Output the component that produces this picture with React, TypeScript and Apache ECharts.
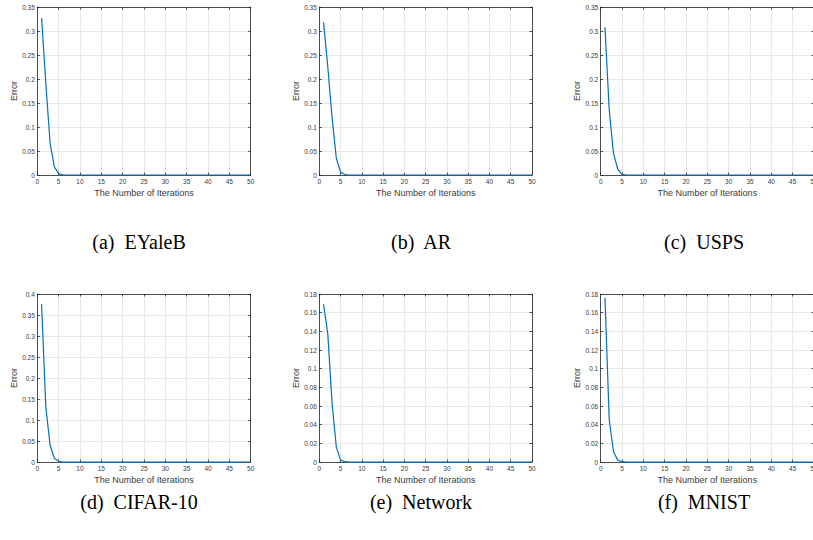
import React, { useEffect, useRef } from "react";
import * as echarts from "echarts";

// Iteration numbers (x axis)
const iterations = [
  1, 2, 3, 4, 5, 6, 7, 8, 9, 10, 11, 12, 13, 14, 15, 16, 17, 18, 19, 20, 21, 22, 23, 24, 25,
  26, 27, 28, 29, 30, 31, 32, 33, 34, 35, 36, 37, 38, 39, 40, 41, 42, 43, 44, 45, 46, 47, 48, 49, 50,
];

// Error values per dataset
const errEYaleB = [
  0.327, 0.19, 0.066, 0.017, 0.003, 0.0005, 0, 0, 0, 0, 0, 0, 0, 0, 0, 0, 0, 0, 0, 0, 0, 0, 0, 0, 0,
  0, 0, 0, 0, 0, 0, 0, 0, 0, 0, 0, 0, 0, 0, 0, 0, 0, 0, 0, 0, 0, 0, 0, 0, 0,
];
const errAR = [
  0.318, 0.225, 0.12, 0.035, 0.006, 0.001, 0, 0, 0, 0, 0, 0, 0, 0, 0, 0, 0, 0, 0, 0, 0, 0, 0, 0, 0,
  0, 0, 0, 0, 0, 0, 0, 0, 0, 0, 0, 0, 0, 0, 0, 0, 0, 0, 0, 0, 0, 0, 0, 0, 0,
];
const errUSPS = [
  0.308, 0.135, 0.045, 0.012, 0.0015, 0, 0, 0, 0, 0, 0, 0, 0, 0, 0, 0, 0, 0, 0, 0, 0, 0, 0, 0, 0,
  0, 0, 0, 0, 0, 0, 0, 0, 0, 0, 0, 0, 0, 0, 0, 0, 0, 0, 0, 0, 0, 0, 0, 0, 0,
];
const errCIFAR = [
  0.376, 0.13, 0.04, 0.009, 0.0015, 0, 0, 0, 0, 0, 0, 0, 0, 0, 0, 0, 0, 0, 0, 0, 0, 0, 0, 0, 0,
  0, 0, 0, 0, 0, 0, 0, 0, 0, 0, 0, 0, 0, 0, 0, 0, 0, 0, 0, 0, 0, 0, 0, 0, 0,
];
const errNetwork = [
  0.169, 0.137, 0.063, 0.016, 0.002, 0.0003, 0, 0, 0, 0, 0, 0, 0, 0, 0, 0, 0, 0, 0, 0, 0, 0, 0, 0, 0,
  0, 0, 0, 0, 0, 0, 0, 0, 0, 0, 0, 0, 0, 0, 0, 0, 0, 0, 0, 0, 0, 0, 0, 0, 0,
];
const errMNIST = [
  0.176, 0.045, 0.011, 0.002, 0.0003, 0, 0, 0, 0, 0, 0, 0, 0, 0, 0, 0, 0, 0, 0, 0, 0, 0, 0, 0, 0,
  0, 0, 0, 0, 0, 0, 0, 0, 0, 0, 0, 0, 0, 0, 0, 0, 0, 0, 0, 0, 0, 0, 0, 0, 0,
];

const panelSeries = [errEYaleB, errAR, errUSPS, errCIFAR, errNetwork, errMNIST];
const captions = ["(a)  EYaleB", "(b)  AR", "(c)  USPS", "(d)  CIFAR-10", "(e)  Network", "(f)  MNIST"];
const yMaxes = [0.35, 0.35, 0.35, 0.4, 0.18, 0.18];
const yIntervals = [0.05, 0.05, 0.05, 0.05, 0.02, 0.02];
const xMin = 0;
const xMax = 50;
const xInterval = 5;
const xTitle = "The Number of Iterations";
const yTitle = "Error";

export default function App() {
  const ref = useRef<HTMLDivElement>(null);

  useEffect(() => {
    if (!ref.current) return;
    const chart = echarts.init(ref.current, undefined, { renderer: "svg" });

    const colLeft = [37.3, 319.3, 600.7];
    const colWidth = [213.4, 212.7, 213.3];
    const rowTop = [7, 294];
    const rowHeight = 168;
    const capX = [139, 421, 704];
    const capY = [242, 502];

    const axisColor = "#262626";
    const labelColor = "#3a3a3a";
    const gridColor = "#e3e3e3";
    const font = "Liberation Sans, Arial, Helvetica, sans-serif";

    const grids: any[] = [];
    const xAxes: any[] = [];
    const yAxes: any[] = [];
    const series: any[] = [];
    const graphics: any[] = [];

    panelSeries.forEach((vals, i) => {
      const r = Math.floor(i / 3);
      const c = i % 3;
      grids.push({
        left: colLeft[c],
        top: rowTop[r],
        width: colWidth[c],
        height: rowHeight,
        containLabel: false,
        outerBoundsMode: "none",
      });
      const lineStyle = { color: axisColor, width: 0.8 };
      xAxes.push({
        type: "value",
        gridIndex: i,
        position: "bottom",
        min: xMin,
        max: xMax,
        interval: xInterval,
        axisLine: { show: true, onZero: false, lineStyle },
        axisTick: { show: true, inside: true, length: 2.5, lineStyle },
        axisLabel: { show: true, fontSize: 6.5, color: labelColor, margin: 3, fontFamily: font },
        splitLine: { show: true, lineStyle: { color: gridColor, width: 0.8 } },
        name: xTitle,
        nameLocation: "middle",
        nameGap: 13,
        nameTextStyle: { fontSize: 9, color: labelColor, fontFamily: font },
      });
      xAxes.push({
        type: "value",
        gridIndex: i,
        position: "top",
        min: xMin,
        max: xMax,
        interval: xInterval,
        axisLine: { show: true, onZero: false, lineStyle },
        axisTick: { show: true, inside: true, length: 2.5, lineStyle },
        axisLabel: { show: false },
        splitLine: { show: false },
      });
      yAxes.push({
        type: "value",
        gridIndex: i,
        position: "left",
        min: 0,
        max: yMaxes[i],
        interval: yIntervals[i],
        axisLine: { show: true, onZero: false, lineStyle },
        axisTick: { show: true, inside: true, length: 2.5, lineStyle },
        axisLabel: { show: true, fontSize: 6.5, color: labelColor, margin: 2.5, fontFamily: font },
        splitLine: { show: true, lineStyle: { color: gridColor, width: 0.8 } },
        name: yTitle,
        nameLocation: "middle",
        nameGap: 18,
        nameTextStyle: { fontSize: 9, color: labelColor, fontFamily: font },
      });
      yAxes.push({
        type: "value",
        gridIndex: i,
        position: "right",
        min: 0,
        max: yMaxes[i],
        interval: yIntervals[i],
        axisLine: { show: true, onZero: false, lineStyle },
        axisTick: { show: true, inside: true, length: 2.5, lineStyle },
        axisLabel: { show: false },
        splitLine: { show: false },
      });
      series.push({
        type: "line",
        xAxisIndex: 2 * i,
        yAxisIndex: 2 * i,
        data: iterations.map((x, j) => [x, vals[j]]),
        showSymbol: false,
        symbol: "none",
        clip: false,
        z: 5,
        lineStyle: { color: "#0072BD", width: 1.2 },
      });
      graphics.push({
        type: "text",
        x: capX[c],
        y: capY[r],
        style: {
          text: captions[i],
          fontSize: 20,
          fontFamily: "Liberation Serif, Times New Roman, serif",
          fill: "#000",
          textAlign: "center",
          textVerticalAlign: "middle",
        },
      });
    });

    chart.setOption({
      animation: false,
      backgroundColor: "#ffffff",
      grid: grids,
      xAxis: xAxes,
      yAxis: yAxes,
      series,
      graphic: graphics,
    });

    return () => chart.dispose();
  }, []);

  return (
    <div
      ref={ref}
      style={{ position: "absolute", left: 0, top: 0, width: 813, height: 540, background: "#fff" }}
    />
  );
}
